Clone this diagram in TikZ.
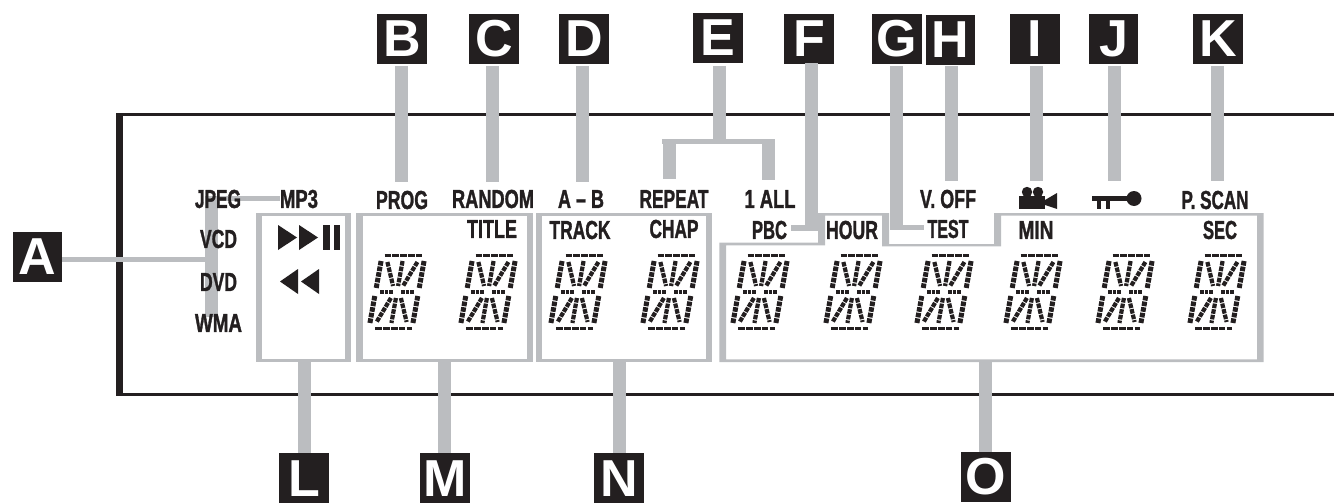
\documentclass[tikz,border=0pt]{standalone}
\usepackage{fontspec}
\setmainfont{Liberation Sans}
\newfontfamily\labfont{Liberation Sans}[BoldFeatures={FakeBold=1.6}]
\definecolor{ink}{HTML}{231F20}
\definecolor{lead}{HTML}{BBBDC0}
\tikzset{
  x=1pt,y=-1pt,
  tagbox/.style={fill=ink,text=white,minimum size=49.5pt,inner sep=0pt,font=\bfseries\fontsize{52}{52}\selectfont},
  lab/.style={inner sep=0pt,text=ink,font=\labfont\bfseries\fontsize{26}{26}\selectfont},
  leadbar/.style={draw=lead,line width=13pt},
  leadthin/.style={draw=lead,line width=5pt},
  panelout/.style={fill=lead,inner sep=0pt},
  panelin/.style={fill=white,inner sep=0pt},
  seg/.style={draw=ink,line width=5pt,dash pattern=on 4.6pt off 1.1pt},
  segd/.style={draw=ink,line width=4.2pt,dash pattern=on 4.6pt off 1.1pt},
  segh/.style={draw=ink,line width=3.8pt,dash pattern=on 6.6pt off 1.2pt},
  segm/.style={draw=ink,line width=3.4pt,dash pattern=on 3.6pt off 1pt},
  border/.style={draw=ink,line width=3pt},
}
\newcommand{\lbl}[5]{\node[lab] (#1) at (#2,#3) {\resizebox{#4pt}{\height}{#5}};}
\newcommand{\tagb}[4]{\node[tagbox] (#1) at (#2,#3) {#4};}
\newcommand{\lcd}[2]{%
  \begin{scope}[shift={(#1,#2)},xslant=0.18]
    \draw[segh] (-19,-36.5)--(18,-36.5);
    \draw[segh] (-15,36.5)--(22,36.5);
    \draw[seg] (-21.5,-31)--(-21.5,-4);
    \draw[seg] (21.5,-31)--(21.5,-4);
    \draw[seg] (-21.5,4)--(-21.5,31);
    \draw[seg] (21.5,4)--(21.5,31);
    \draw[segd] (0,-31)--(0,-6);
    \draw[segd] (0,6)--(0,31);
    \draw[segd] (-15,-30)--(-5,-6);
    \draw[segd] (15,-30)--(5,-6);
    \draw[segd] (-5,6)--(-15,30);
    \draw[segd] (5,6)--(15,30);
    \draw[segm] (-17,0)--(-4,0);
    \draw[segm] (4,0)--(17,0);
  \end{scope}}
\begin{document}
\begin{tikzpicture}
\useasboundingbox (0,0) rectangle (1334,503);
% outer display border
\draw[border] (1334,114)--(119.3,114)--(119.3,394.5)--(1334,394.5);
\fill[ink] (116,112.5) rectangle (122.7,396);
% panels
\node[panelout,minimum width=95.3pt,minimum height=149pt] (pL) at (303.35,287.5) {};
\node[panelin,minimum width=82.3pt,minimum height=143.8pt] at (303.35,287.5) {};
\node[panelout,minimum width=177pt,minimum height=149pt] (pM) at (444.5,287.5) {};
\node[panelin,minimum width=164pt,minimum height=143.8pt] at (444.5,287.5) {};
\node[panelout,minimum width=176.3pt,minimum height=149pt] (pN) at (623.85,287.5) {};
\node[panelin,minimum width=163.3pt,minimum height=143.8pt] at (623.85,287.5) {};
\fill[lead] (719.3,362)--(719.3,242.7)--(818,242.7)--(818,213)--(889,213)--(889,244)--(994,244)--(994,213)--(1263.5,213)--(1263.5,362)--cycle
  (726,359.4)--(1257,359.4)--(1257,215.6)--(1001,215.6)--(1001,246.4)--(882,246.4)--(882,215.6)--(825,215.6)--(825,245.3)--(726,245.3)--cycle;
\coordinate (pO) at (985,361);
% tags
\tagb{A}{37.5}{257}{A}
\tagb{B}{402}{39}{B}
\tagb{C}{494}{39}{C}
\tagb{D}{584}{39}{D}
\tagb{E}{718}{38}{E}
\tagb{G}{897}{39}{G}
\tagb{H}{950.5}{40}{H}
\tagb{I}{1035}{39}{I}
\tagb{J}{1113.5}{39}{J}
\tagb{K}{1218}{39}{K}
\tagb{L}{304}{478.2}{L}
\tagb{M}{445}{478.2}{M}
\tagb{N}{619}{478.2}{N}
\tagb{O}{986}{477}{O}
\tagb{F}{809}{39}{F}
% leader end points
\coordinate (bEnd) at (401.5,182);
\coordinate (cEnd) at (492,182);
\coordinate (dEnd) at (582.5,182);
\coordinate (eTop) at (719.5,66);
\coordinate (eMid) at (719.5,141.5);
\coordinate (eL0) at (669,139);
\coordinate (eL1) at (669,179);
\coordinate (eR0) at (768.5,139);
\coordinate (eR1) at (768.5,180);
\coordinate (eHL) at (662,141.5);
\coordinate (eHR) at (775,141.5);
\coordinate (fEnd) at (811.5,230.7);
\coordinate (fC) at (818,228);
\coordinate (fT) at (791,228);
\coordinate (gEnd) at (896.5,230);
\coordinate (gC) at (890,227.5);
\coordinate (gT) at (924,227.5);
\coordinate (hEnd) at (951.5,181);
\coordinate (iEnd) at (1036,181);
\coordinate (jEnd) at (1114.5,181);
\coordinate (kEnd) at (1217.5,181);
\coordinate (aEnd) at (205,259);
\coordinate (aT) at (211.4,198);
\coordinate (aB) at (211.4,317);
\coordinate (aS) at (205,198.4);
\coordinate (aM) at (280,198.4);
\coordinate (lX) at (304.5,361);
\coordinate (mX) at (444,361);
\coordinate (nX) at (619.5,361);
% leaders
\draw[leadbar,shorten <=2pt] (B.south -| bEnd) -- (bEnd);
\draw[leadbar,shorten <=2pt] (C.south -| cEnd) -- (cEnd);
\draw[leadbar,shorten <=2pt] (D.south -| dEnd) -- (dEnd);
\draw[leadbar,shorten <=3pt] (E.south -| eTop) -- (eMid);
\draw[leadthin] (eHL) -- (eHR);
\draw[leadbar] (eL0) -- (eL1);
\draw[leadbar] (eR0) -- (eR1);
\draw[leadbar,shorten <=-1pt] (F.south -| fEnd) -- (fEnd);
\draw[leadthin,line width=5.5pt] (fC) -- (fT);
\draw[leadbar,shorten <=2pt] (G.south -| gEnd) -- (gEnd);
\draw[leadthin] (gC) -- (gT);
\draw[leadbar,shorten <=1pt] (H.south -| hEnd) -- (hEnd);
\draw[leadbar,shorten <=2pt] (I.south -| iEnd) -- (iEnd);
\draw[leadbar,shorten <=2pt] (J.south -| jEnd) -- (jEnd);
\draw[leadbar,shorten <=2pt] (K.south -| kEnd) -- (kEnd);
\draw[leadthin] (A.east |- aEnd) -- (aEnd);
\draw[leadbar,line width=12.7pt] (aT) -- (aB);
\draw[leadthin,line width=4.7pt] (aS) -- (aM);
\draw[leadbar] (lX) -- (L.north -| lX);
\draw[leadbar] (mX) -- (M.north -| mX);
\draw[leadbar] (nX) -- (N.north -| nX);
\draw[leadbar] (pO) -- (O.north -| pO);
% labels
\lbl{jpeg}{218}{199}{46}{JPEG}
\lbl{mp3}{299}{199}{38}{MP3}
\lbl{vcd}{218.5}{239}{37}{VCD}
\lbl{dvd}{218.5}{282}{37}{DVD}
\lbl{wma}{218.5}{323}{47}{WMA}
\lbl{prog}{402}{200}{52}{PROG}
\lbl{random}{493}{199}{82}{RANDOM}
\lbl{ab}{581}{199}{46}{A – B}
\lbl{repeat}{674}{199}{69}{REPEAT}
\lbl{oneall}{770}{199}{51}{1 ALL}
\lbl{voff}{948}{199}{56}{V. OFF}
\lbl{pscan}{1215}{200}{67}{P. SCAN}
\lbl{title}{492}{229}{50}{TITLE}
\lbl{track}{580}{230}{61}{TRACK}
\lbl{chap}{674}{229}{49}{CHAP}
\lbl{pbc}{769.5}{230}{35}{PBC}
\lbl{hour}{852}{230}{52}{HOUR}
\lbl{test}{948}{229}{41}{TEST}
\lbl{min}{1036}{230}{35}{MIN}
\lbl{sec}{1220}{230}{34}{SEC}
% transport icons
\fill[ink] (278,225)--(297,237.5)--(278,250)--cycle;
\fill[ink] (299,225)--(318,237.5)--(299,250)--cycle;
\fill[ink] (323,225) rectangle (329.5,250);
\fill[ink] (333.5,225) rectangle (340,250);
\fill[ink] (298,269)--(280,281.5)--(298,294)--cycle;
\fill[ink] (319,269)--(301,281.5)--(319,294)--cycle;
% camera icon
\fill[ink] (1027,192) circle (5.2);
\fill[ink] (1038,192) circle (5.2);
\fill[ink] (1019,196) rectangle (1045,209);
\fill[ink] (1045,200)--(1057,193)--(1057,209)--(1045,205)--cycle;
% key icon
\fill[ink] (1134,198.5) circle (7.5);
\fill[ink] (1092,195.7) rectangle (1128,201);
\fill[ink] (1097,200) rectangle (1101,208.5);
\fill[ink] (1106,200) rectangle (1110,208.5);
% digits
\lcd{397}{292}
\lcd{488}{292}
\lcd{578}{292}
\lcd{670}{292}
\lcd{760}{292}
\lcd{853}{292}
\lcd{944}{292}
\lcd{1033}{292}
\lcd{1125}{292}
\lcd{1217}{292}
\end{tikzpicture}
\end{document}
